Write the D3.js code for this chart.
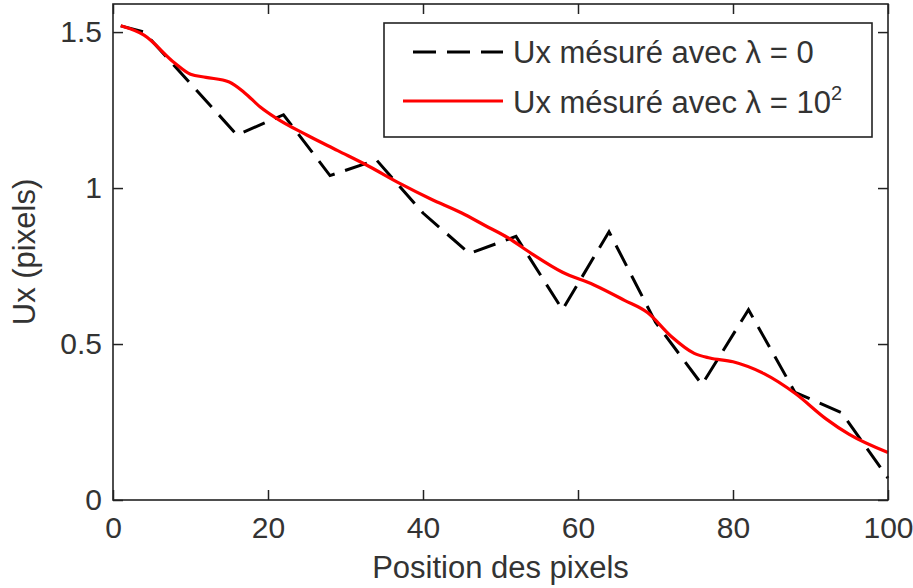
<!DOCTYPE html>
<meta charset="utf-8">
<style type="text/css">
	body { margin: 0; background: #fff; }
	svg { font-family: "Liberation Sans", Arial, sans-serif; }
	.axis text { font-size: 30px; fill: #333; font-family: "Liberation Sans", Arial, sans-serif; }
	.axis line { stroke: #222; stroke-width: 1.5px; }
	.axis path { display: none; }
	.frame { fill: none; stroke: #222; stroke-width: 1.6px; }
	.label { font-size: 31px; fill: #333; }
	.dashed { fill: none; stroke: #000; stroke-width: 3px; stroke-dasharray: 23,11; }
	.smooth { fill: none; stroke: #ff0000; stroke-width: 3.2px; }
</style>
<body></body>
<script src="https://d3js.org/d3.v7.min.js"></script>
<script>

	// lambda = 0 (piecewise measurement)
	var xRaw = [1, 4, 10, 16, 22, 28, 34, 40, 46, 52, 58, 64, 70, 76, 82, 88, 94, 100];
	var uxRaw = [1.52, 1.50, 1.335, 1.17, 1.235, 1.04, 1.09, 0.92, 0.79, 0.845, 0.61, 0.86, 0.57, 0.37, 0.61, 0.345, 0.28, 0.07];

	// lambda = 10^2 (regularised)
	var xReg = [1, 4, 8, 10, 12, 15, 17, 19, 21, 25, 29, 33, 37, 41, 45, 48, 51, 54, 58, 62, 66, 69, 72, 75, 77, 80, 84, 88, 92, 95, 100];
	var uxReg = [1.52, 1.49, 1.40, 1.365, 1.355, 1.34, 1.305, 1.26, 1.225, 1.17, 1.12, 1.07, 1.015, 0.965, 0.92, 0.88, 0.84, 0.79, 0.73, 0.69, 0.64, 0.60, 0.525, 0.47, 0.455, 0.443, 0.405, 0.342, 0.26, 0.21, 0.152];

	var xTicks = [0, 20, 40, 60, 80, 100];
	var yTicks = [0, 0.5, 1, 1.5];

	var margin = {top: 4, right: 25, bottom: 88, left: 113};
	var width = 913 - margin.left - margin.right;
	var height = 588 - margin.top - margin.bottom;

	var svg = d3.select("body").append("svg")
		.attr("width", 913)
		.attr("height", 588)
		.append("g")
		.attr("transform", "translate(" + margin.left + "," + margin.top + ")");

	var xScale = d3.scaleLinear().domain([0, 100]).range([0, width]);
	var yScale = d3.scaleLinear().domain([0, 1.59]).range([height, 0]);

	svg.append("g")
		.attr("class", "x axis")
		.attr("transform", "translate(0," + height + ")")
		.call(d3.axisBottom(xScale).tickValues(xTicks).tickSizeInner(-10).tickSizeOuter(0).tickPadding(17));

	svg.append("g")
		.attr("class", "y axis")
		.call(d3.axisLeft(yScale).tickValues(yTicks).tickSizeInner(-10).tickSizeOuter(0).tickPadding(11)
			.tickFormat(function(d) { return d; }));

	svg.append("g")
		.attr("class", "axis")
		.call(d3.axisTop(xScale).tickValues(xTicks).tickSizeInner(-10).tickSizeOuter(0).tickFormat(""));

	svg.append("g")
		.attr("class", "axis")
		.attr("transform", "translate(" + width + ",0)")
		.call(d3.axisRight(yScale).tickValues(yTicks).tickSizeInner(-10).tickSizeOuter(0).tickFormat(""));

	var line = d3.line()
		.x(function(d) { return xScale(d[0]); })
		.y(function(d) { return yScale(d[1]); });

	var smoothLine = d3.line()
		.curve(d3.curveMonotoneX)
		.x(function(d) { return xScale(d[0]); })
		.y(function(d) { return yScale(d[1]); });

	svg.append("path")
		.datum(d3.zip(xRaw, uxRaw))
		.attr("class", "dashed")
		.attr("d", line);

	svg.append("path")
		.datum(d3.zip(xReg, uxReg))
		.attr("class", "smooth")
		.attr("d", smoothLine);

	svg.append("rect")
		.attr("class", "frame")
		.attr("width", width)
		.attr("height", height);

	// axis labels
	svg.append("text")
		.attr("class", "label")
		.attr("x", width / 2)
		.attr("y", height + 78)
		.attr("text-anchor", "middle")
		.text("Position des pixels");

	svg.append("text")
		.attr("class", "label")
		.attr("transform", "translate(" + (-78) + "," + (height / 2) + ") rotate(-90)")
		.attr("text-anchor", "middle")
		.text("Ux (pixels)");

	// legend
	var legend = svg.append("g")
		.attr("transform", "translate(" + (384 - margin.left) + "," + (23 - margin.top) + ")");

	legend.append("rect")
		.attr("class", "frame")
		.attr("width", 488)
		.attr("height", 114);

	legend.append("line")
		.attr("class", "dashed")
		.attr("x1", 29).attr("x2", 119)
		.attr("y1", 29).attr("y2", 29);

	legend.append("line")
		.attr("class", "smooth")
		.attr("x1", 19).attr("x2", 119)
		.attr("y1", 78).attr("y2", 78);

	legend.append("text")
		.attr("class", "label")
		.attr("x", 129)
		.attr("y", 40)
		.text("Ux mésuré avec λ = 0");

	var t2 = legend.append("text")
		.attr("class", "label")
		.attr("x", 129)
		.attr("y", 90);
	t2.append("tspan").text("Ux mésuré avec λ = 10");
	t2.append("tspan")
		.attr("dy", -13)
		.style("font-size", "20px")
		.text("2");

</script>
